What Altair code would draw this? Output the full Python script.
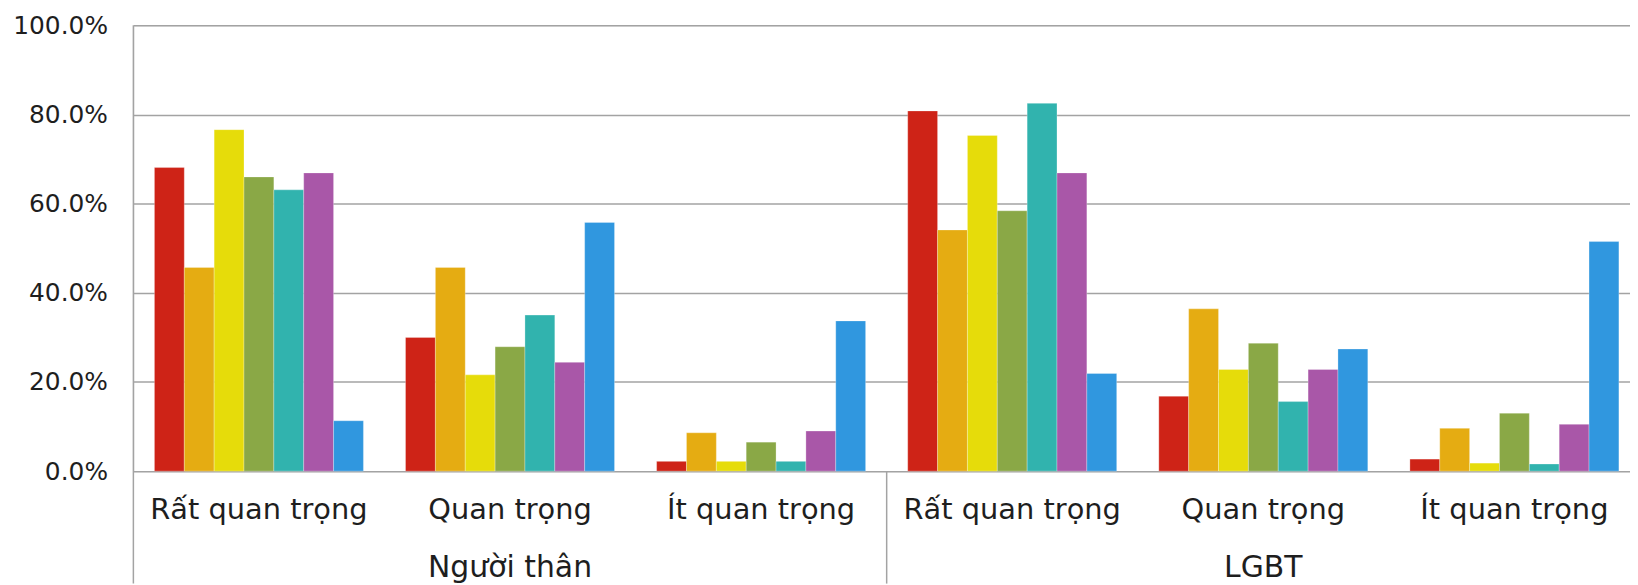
import altair as alt
import pandas as pd

# ---- data ----
groups = ["Người thân", "LGBT"]
levels = ["Rất quan trọng", "Quan trọng", "Ít quan trọng"]
series = ["Nhóm 1", "Nhóm 2", "Nhóm 3", "Nhóm 4", "Nhóm 5", "Nhóm 6", "Nhóm 7"]
colors = ["#CE2317", "#E5AC12", "#E6DC0A", "#8AA846", "#31B3AE", "#A957A8", "#3097DF"]

nt_rat = [68.1, 45.7, 76.6, 66.0, 63.1, 66.9, 11.3]
nt_quan = [30.0, 45.7, 21.6, 27.9, 35.0, 24.4, 55.8]
nt_it = [2.2, 8.6, 2.2, 6.5, 2.2, 9.0, 33.7]
lg_rat = [80.8, 54.1, 75.3, 58.4, 82.5, 66.9, 21.9]
lg_quan = [16.8, 36.4, 22.8, 28.7, 15.6, 22.8, 27.4]
lg_it = [2.7, 9.6, 1.8, 13.0, 1.6, 10.5, 51.5]

y_ticks = [0, 0.2, 0.4, 0.6, 0.8, 1.0]

values = {
    ("Người thân", "Rất quan trọng"): nt_rat,
    ("Người thân", "Quan trọng"): nt_quan,
    ("Người thân", "Ít quan trọng"): nt_it,
    ("LGBT", "Rất quan trọng"): lg_rat,
    ("LGBT", "Quan trọng"): lg_quan,
    ("LGBT", "Ít quan trọng"): lg_it,
}

cats = [f"{g}|{l}" for g in groups for l in levels]
rows = []
for g in groups:
    for l in levels:
        for s, v in zip(series, values[(g, l)]):
            rows.append({"cat": f"{g}|{l}", "series": s, "value": v / 100.0})
df = pd.DataFrame(rows)

cat_df = pd.DataFrame({"cat": cats, "level": [c.split("|")[1] for c in cats]})
grp_df = pd.DataFrame({"cat": [f"{g}|{levels[1]}" for g in groups], "group": groups})
axis_df = pd.DataFrame({"cat": [cats[0]]})
sep_df = pd.DataFrame({"cat": [cats[3]]})

# ---- layout ----
H = 448
VIEW_W = 1504
RANGE_W = 1514
BOTTOM = 113
FONT = "DejaVu Sans"
TXT = "#1e1e1e"
GRID = "#a3a3a3"

xscale = alt.Scale(domain=cats, range=[0, RANGE_W], paddingInner=0, paddingOuter=0)
x_enc = alt.X("cat:N", scale=xscale, axis=None)

bars = alt.Chart(df).mark_bar(stroke="white", strokeWidth=0.8, strokeOpacity=0.35).encode(
    x=x_enc,
    xOffset=alt.XOffset("series:N", sort=series,
                        scale=alt.Scale(paddingInner=0, paddingOuter=0.705)),
    y=alt.Y("value:Q", scale=alt.Scale(domain=[0, 1], nice=False),
            axis=alt.Axis(values=y_ticks, format=".1%", title=None,
                          labelFont=FONT, labelFontSize=25, labelColor=TXT,
                          labelPadding=26, ticks=False, tickSize=0, domain=False,
                          grid=True, gridColor=GRID, gridWidth=1.5)),
    color=alt.Color("series:N", scale=alt.Scale(domain=series, range=colors), legend=None),
)

left_line = alt.Chart(axis_df).mark_rule(color=GRID, strokeWidth=1.5).encode(
    x=alt.X("cat:N", scale=xscale, axis=None, bandPosition=0),
    y=alt.value(0),
    y2=alt.value(H + BOTTOM),
)

sep_line = alt.Chart(sep_df).mark_rule(color=GRID, strokeWidth=1.5).encode(
    x=alt.X("cat:N", scale=xscale, axis=None, bandPosition=0),
    y=alt.value(H),
    y2=alt.value(H + BOTTOM),
)

cat_text = alt.Chart(cat_df).mark_text(font=FONT, fontSize=29, color=TXT,
                                       baseline="alphabetic", align="center").encode(
    x=alt.X("cat:N", scale=xscale, axis=None),
    y=alt.value(H + 48),
    text="level:N",
)

grp_text = alt.Chart(grp_df).mark_text(font=FONT, fontSize=30, color=TXT,
                                       baseline="alphabetic", align="center").encode(
    x=alt.X("cat:N", scale=xscale, axis=None),
    y=alt.value(H + 106),
    text="group:N",
)

chart = alt.layer(bars, left_line, sep_line, cat_text, grp_text).properties(
    width=VIEW_W,
    height=H,
    autosize=alt.AutoSizeParams(type="none"),
    padding={"left": 126, "top": 16, "right": 0, "bottom": BOTTOM},
).configure_view(stroke="transparent").configure(background="white")

chart.save("out.html", embed_options={"renderer": "svg", "actions": False})
